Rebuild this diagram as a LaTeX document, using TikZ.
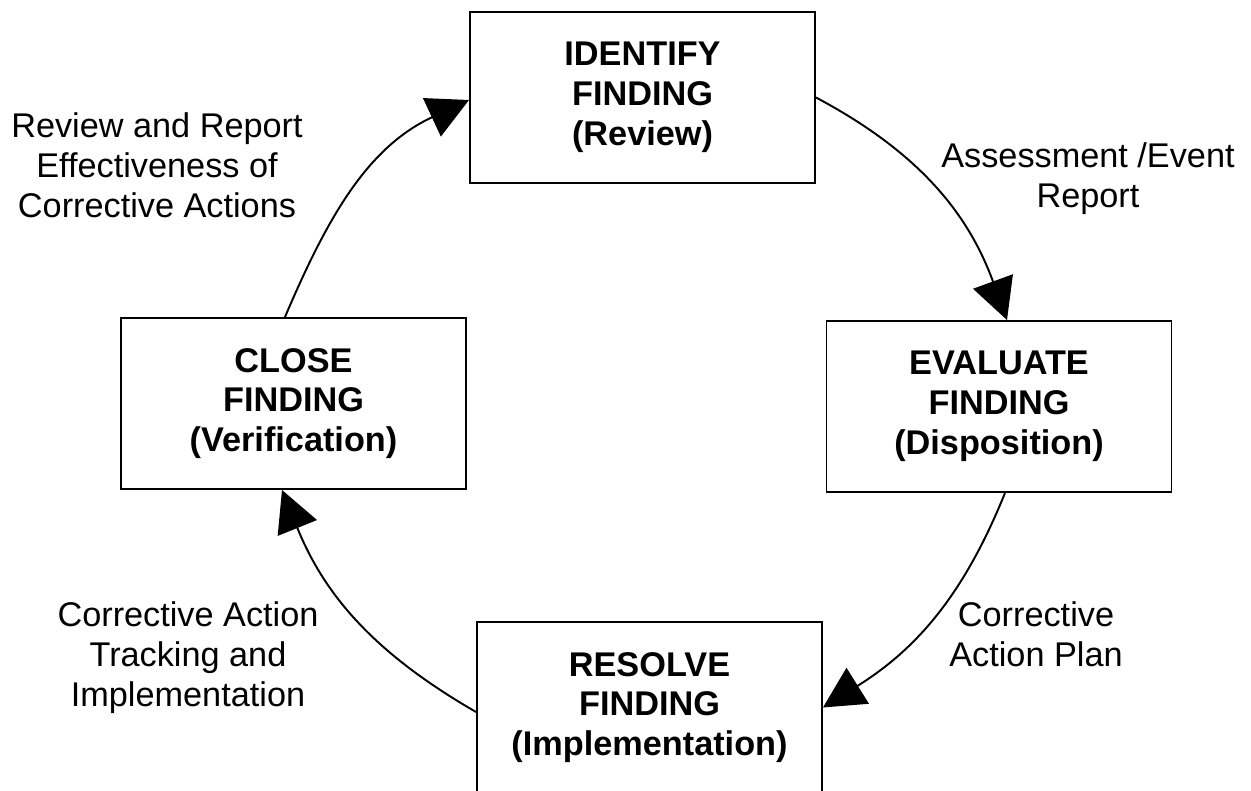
\documentclass[tikz,border=0pt]{standalone}
\usepackage{fontspec}
\setmainfont{Liberation Sans}
\usetikzlibrary{arrows.meta,positioning}

\begin{document}
\begin{tikzpicture}[->,>={Triangle[length=0.82cm,width=0.84cm]},line width=1.1pt,
  font=\fontsize{19.5pt}{22.7pt}\selectfont,
  phase node/.style={rectangle,draw,align=center,inner sep=0pt,
    minimum width=6.9cm,minimum height=3.42cm,font=\fontsize{19.5pt}{22.7pt}\selectfont\bfseries},
  label node/.style={align=center,inner sep=0pt}]

  \useasboundingbox (0,0) rectangle (25.02,15.82);

  \node[phase node] (identify) at (12.85,13.87) {IDENTIFY\\FINDING\\(Review)};
  \node[phase node] (evaluate) [on grid,below right=6.18cm and 7.13cm of identify] {EVALUATE\\FINDING\\(Disposition)};
  \node[phase node] (resolve) [on grid,below right=12.2cm and 0.14cm of identify] {RESOLVE\\FINDING\\(Implementation)};
  \node[phase node] (close) [on grid,below left=6.12cm and 6.98cm of identify] {CLOSE\\FINDING\\(Verification)};

  \node[label node] (assess) at (21.76,12.24) {Assessment /Event\\Report};
  \node[label node] (plan) at (20.72,3.13) {Corrective\\Action Plan};
  \node[label node] (tracking) at (3.76,2.66) {Corrective Action\\Tracking and\\Implementation};
  \node[label node] (review) at (3.14,12.51) {Review and Report\\Effectiveness of\\Corrective Actions};

  % the cycle, clockwise
  \path
    (identify.east) edge[out=-28,in=110] ([xshift=0.16cm]evaluate.north)
    ([xshift=0.12cm]evaluate.south) edge[out=-112,in=32] (resolve.east)
    ([yshift=-0.09cm]resolve.west) edge[out=150,in=-68] ([xshift=-0.23cm]close.south)
    ([xshift=-0.17cm]close.north) edge[out=67,in=-155] ([yshift=-0.05cm]identify.west);
\end{tikzpicture}
\end{document}
